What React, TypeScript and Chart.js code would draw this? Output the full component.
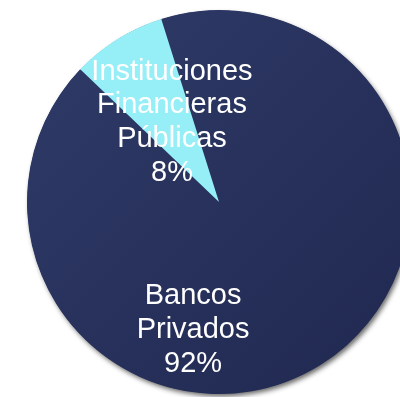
import React, { useEffect, useRef } from "react";
import { Chart, registerables } from "chart.js";

Chart.register(...registerables);

const categories = ["Bancos Privados", "Instituciones Financieras Públicas"];
const shares = [92, 8];
const sliceColors = ["#283260", "#96eef7"];

export default function App() {
  const ref = useRef<HTMLCanvasElement>(null);

  useEffect(() => {
    const canvas = ref.current;
    if (!canvas) return;

    // label anchor offsets, as fractions of the radius, relative to the centre
    const labelAnchors = [
      { dx: -0.135, dy: 0.667 },
      { dx: -0.245, dy: -0.415 },
    ];

    const shadowPlugin = {
      id: "pieShadow",
      beforeDatasetsDraw(chart: any) {
        const arc = chart.getDatasetMeta(0).data[0];
        if (!arc) return;
        const { x, y, outerRadius } = arc.getProps(["x", "y", "outerRadius"], true);
        const ctx = chart.ctx;
        ctx.save();
        ctx.shadowColor = "rgba(0,0,0,0.6)";
        ctx.shadowBlur = 5;
        ctx.shadowOffsetX = 2;
        ctx.shadowOffsetY = 3;
        ctx.fillStyle = "#222a55";
        ctx.beginPath();
        ctx.arc(x, y, outerRadius - 0.5, 0, Math.PI * 2);
        ctx.fill();
        ctx.restore();
      },
    };

    const labelPlugin = {
      id: "sliceLabels",
      afterDatasetsDraw(chart: any) {
        const meta = chart.getDatasetMeta(0);
        const total = shares.reduce((a, b) => a + b, 0);
        const ctx = chart.ctx;
        ctx.save();
        ctx.fillStyle = "#ffffff";
        ctx.font = '29px "Liberation Sans", Arial, sans-serif';
        ctx.textAlign = "center";
        ctx.textBaseline = "middle";
        const lineH = 33.8;
        meta.data.forEach((arc: any, i: number) => {
          const { x, y, outerRadius } = arc.getProps(["x", "y", "outerRadius"], true);
          const a = labelAnchors[i];
          const cx = x + a.dx * outerRadius;
          const cy = y + a.dy * outerRadius;
          const lines = categories[i].split(" ");
          lines.push(Math.round((shares[i] / total) * 100) + "%");
          const top = cy - ((lines.length - 1) * lineH) / 2;
          lines.forEach((t, k) => ctx.fillText(t, cx, top + k * lineH));
        });
        ctx.restore();
      },
    };

    const chart = new Chart(canvas, {
      type: "pie",
      data: {
        labels: categories,
        datasets: [
          {
            data: shares,
            backgroundColor: (c: any) => {
              if (c.dataIndex !== 0) return sliceColors[c.dataIndex];
              const area = c.chart.chartArea;
              if (!area) return sliceColors[0];
              const g = c.chart.ctx.createLinearGradient(area.left, area.top, area.right, area.bottom);
              g.addColorStop(0, "#2f3b69");
              g.addColorStop(1, "#20284f");
              return g;
            },
            borderWidth: 0,
            hoverOffset: 0,
            offset: 0,
          },
        ],
      },
      options: {
        responsive: false,
        animation: false,
        rotation: -17.5,
        radius: 192,
        layout: { padding: { left: 27, right: 29, top: 10, bottom: 3 } },
        plugins: {
          legend: { display: false },
          tooltip: { enabled: false },
        },
        events: [],
      },
      plugins: [shadowPlugin, labelPlugin],
    });

    return () => chart.destroy();
  }, []);

  return (
    <div
      style={{
        position: "fixed",
        left: 0,
        top: 0,
        width: 400,
        height: 397,
        overflow: "hidden",
        background: "#ffffff",
      }}
    >
      <canvas ref={ref} width={440} height={397} style={{ display: "block", width: 440, height: 397 }} />
    </div>
  );
}
